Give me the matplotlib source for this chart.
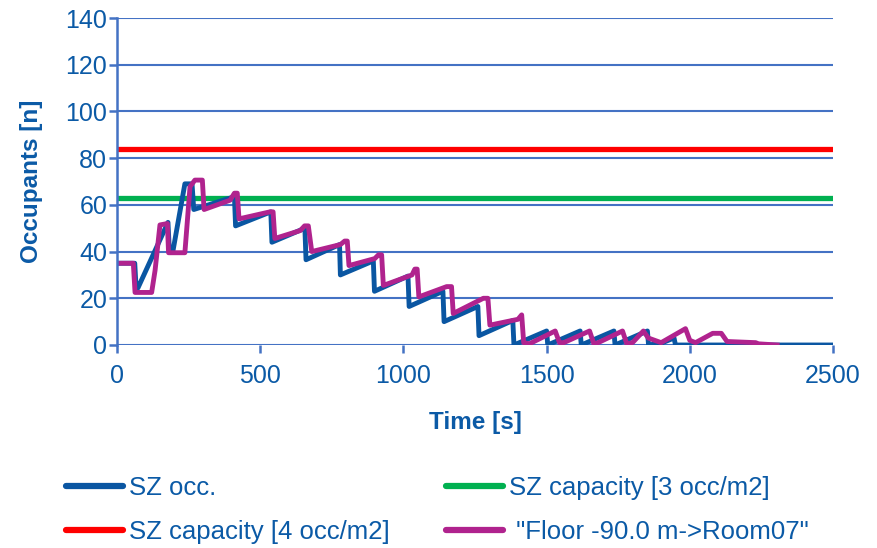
import matplotlib.pyplot as plt

plt.rcParams["font.family"] = ["Liberation Sans", "DejaVu Sans"]

TXT = "#0B5AA6"
GRID = "#4472C4"

# SZ occ. (time [s], occupants)
szT = [0, 62, 66, 73, 178, 183, 195, 237, 262, 268, 410, 414, 537, 541, 656, 660,
       777, 780, 895, 899, 1016, 1020, 1138, 1142, 1260, 1264, 1382, 1386,
       1500, 1504, 1617, 1621, 1735, 1739, 1852, 1856, 1905, 1945, 1950, 2500]
szV = [35, 35, 26, 24.4, 52.5, 40, 40, 69, 69, 58, 63.5, 51, 57, 44, 50, 36.5,
       43, 30, 36, 23, 29.5, 16.5, 23, 10, 16.5, 4, 10.5, 0,
       6, 0, 6, 0, 6, 0, 6, 0, 1, 3, 0, 0]

# "Floor -90.0 m->Room07"
flT = [0, 57, 63, 121, 133, 150, 176, 180, 237, 255, 272, 298, 304, 395, 410, 420,
       426, 534, 545, 551, 640, 655, 668, 680, 780, 795, 804, 810, 900, 913,
       924, 930, 1030, 1040, 1048, 1054, 1151, 1168, 1174, 1279, 1295, 1302,
       1400, 1413, 1420, 1440, 1530, 1545, 1560, 1650, 1665, 1680, 1765, 1780,
       1800, 1838, 1855, 1900, 1985, 2000, 2020, 2080, 2110, 2130, 2230, 2240, 2305]
flV = [35, 35, 22.5, 22.5, 32, 51.4, 52, 39.5, 39.5, 67.8, 70.6, 70.6, 58, 62, 65, 65,
       54, 57, 57, 45.6, 49, 51, 51, 40, 43, 44.5, 44.5, 34, 37, 38.6,
       38.6, 25.5, 30, 32.5, 32.5, 20.6, 25, 25, 13.5, 20, 20, 8.5,
       11, 12.9, 1, 0.5, 6, 1, 1, 6, 0.5, 1, 6, 0.5,
       1, 6, 3, 1, 7, 2, 1, 5, 5, 1.5, 1, 0.5, 0]

capT = [0, 2500]
cap3 = [63, 63]
cap4 = [84, 84]

fig = plt.figure(figsize=(8.77, 5.48), dpi=100)
ax = fig.add_axes([117 / 877, 1 - 345 / 548, 716 / 877, 327 / 548])

g, = ax.plot(capT, cap3, color="#00B050", lw=3.8, solid_capstyle="butt")
r, = ax.plot(capT, cap4, color="#FF0000", lw=3.8, solid_capstyle="butt")
b, = ax.plot(szT, szV, color="#0A56A2", lw=3.5, solid_joinstyle="round")
p, = ax.plot(flT, flV, color="#B0238E", lw=3.5, solid_joinstyle="round")

ax.set_xlim(0, 2500)
ax.set_ylim(0, 140)
ax.set_xticks(range(0, 2501, 500))
ax.set_yticks(range(0, 141, 20))
ax.yaxis.grid(True, color=GRID, lw=1.5)
ax.set_axisbelow(True)
for s in ["top", "right", "bottom"]:
    ax.spines[s].set_visible(False)
ax.spines["left"].set_color(GRID)
ax.spines["left"].set_linewidth(1.8)
ax.tick_params(axis="both", colors=GRID, labelcolor=TXT, labelsize=18,
               length=6, width=1.8)
ax.tick_params(axis="x", pad=8)
ax.tick_params(axis="y", pad=1)

ax.set_xlabel("Time [s]", color=TXT, fontsize=17.5, fontweight="bold", labelpad=16)
ax.set_ylabel("Occupants [n]", color=TXT, fontsize=17.5, fontweight="bold", labelpad=16)

leg = fig.legend([b, r, g, p],
                 ["SZ occ.", "SZ capacity [4 occ/m2]", "SZ capacity [3 occ/m2]",
                  ' "Floor -90.0 m->Room07"'],
                 ncol=2, loc="upper left", bbox_to_anchor=(66 / 877, 1 - 476 / 548),
                 frameon=False, fontsize=18.5, handlelength=2.2, handletextpad=0.25,
                 columnspacing=2.2, labelspacing=0.78, borderpad=0, borderaxespad=0)
for t in leg.get_texts():
    t.set_color(TXT)
for h in leg.get_lines():
    h.set_linewidth(4.5)
    h.set_solid_capstyle("round")

fig.savefig("out.png", dpi=100)
